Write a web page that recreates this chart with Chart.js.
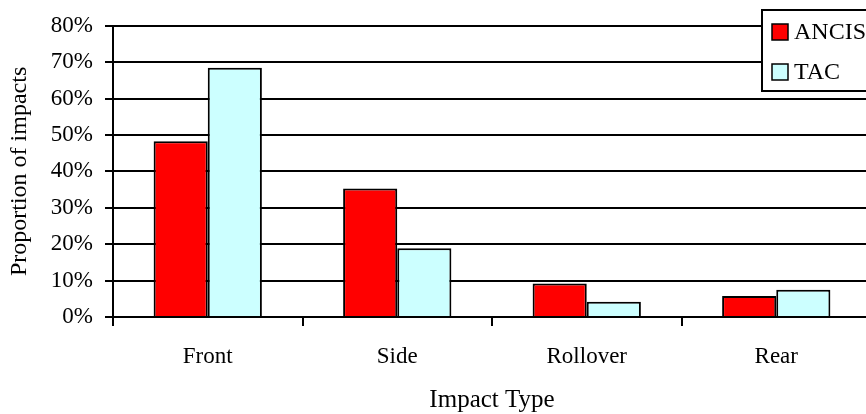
<!DOCTYPE html>
<html>
<head>
<meta charset="utf-8">
<script src="https://cdn.jsdelivr.net/npm/chart.js@4/dist/chart.umd.min.js"></script>
<style>
  html, body { margin: 0; padding: 0; background: #fff; overflow: hidden; }
  #wrap { width: 871px; height: 414px; }
</style>
</head>
<body>
<div id="wrap"><canvas id="c" width="871" height="414"></canvas></div>
<script>
// Share of impacts by impact type, ANCIS vs TAC (percent)
const categories = ['Front', 'Side', 'Rollover', 'Rear'];
const ancisValues = [48.3, 35.3, 9.2, 5.8];
const tacValues = [68.5, 18.9, 4.2, 7.5];
const yTickValues = [0, 10, 20, 30, 40, 50, 60, 70, 80];

const FONT = '"Liberation Serif", "Times New Roman", serif';

// Boxed legend drawn inside the plot, top right
const boxedLegend = {
  id: 'boxedLegend',
  afterDraw(chart) {
    const ctx = chart.ctx;
    const x0 = 762, y0 = 10, w = 130, h = 81;
    ctx.save();
    ctx.fillStyle = '#fff';
    ctx.fillRect(x0, y0, w, h);
    ctx.lineWidth = 2;
    ctx.strokeStyle = '#000';
    ctx.strokeRect(x0, y0, w, h);
    const rows = [32, 72];
    chart.data.datasets.forEach((ds, i) => {
      const cy = rows[i];
      ctx.fillStyle = ds.backgroundColor;
      ctx.fillRect(772, cy - 8, 16, 16);
      ctx.lineWidth = 1.5;
      ctx.strokeStyle = '#000';
      ctx.strokeRect(772, cy - 8, 16, 16);
      ctx.fillStyle = '#000';
      ctx.font = '24px ' + FONT;
      ctx.textBaseline = 'middle';
      ctx.textAlign = 'left';
      ctx.fillText(ds.label, 794, cy + 1);
    });
    ctx.restore();
  }
};

new Chart(document.getElementById('c'), {
  type: 'bar',
  data: {
    labels: categories,
    datasets: [
      { label: 'ANCIS', data: ancisValues, backgroundColor: '#FF0000', borderColor: '#000', borderWidth: 2 },
      { label: 'TAC', data: tacValues, backgroundColor: '#CCFFFF', borderColor: '#000', borderWidth: 2 }
    ]
  },
  options: {
    responsive: false,
    animation: false,
    layout: { padding: { top: 24, right: 0, bottom: 0, left: 0 } },
    datasets: { bar: { categoryPercentage: 0.5714, barPercentage: 1 } },
    plugins: { legend: { display: false }, tooltip: { enabled: false } },
    scales: {
      x: {
        grid: { display: true, drawOnChartArea: false, offset: true, tickLength: 9, color: '#000', lineWidth: 2 },
        border: { display: true, color: '#000', width: 2 },
        ticks: { color: '#000', font: { family: FONT, size: 23 }, padding: 17, maxRotation: 0 },
        title: { display: true, text: 'Impact Type', color: '#000', font: { family: FONT, size: 25 }, padding: { top: 0, bottom: -1 } },
        afterFit(scale) { scale.height = 97; }
      },
      y: {
        min: 0, max: 80,
        afterBuildTicks(scale) { scale.ticks = yTickValues.map(v => ({ value: v })); },
        grid: { color: '#000', lineWidth: 2, tickLength: 8 },
        border: { display: true, color: '#000', width: 2 },
        ticks: { color: '#000', font: { family: FONT, size: 23 }, padding: 12, callback: v => v + '%' },
        title: { display: true, text: 'Proportion of impacts', color: '#000', font: { family: FONT, size: 24 }, padding: { top: 5, bottom: 0 } },
        afterFit(scale) { scale.width = 113; }
      }
    }
  },
  plugins: [boxedLegend]
});
</script>
</body>
</html>
